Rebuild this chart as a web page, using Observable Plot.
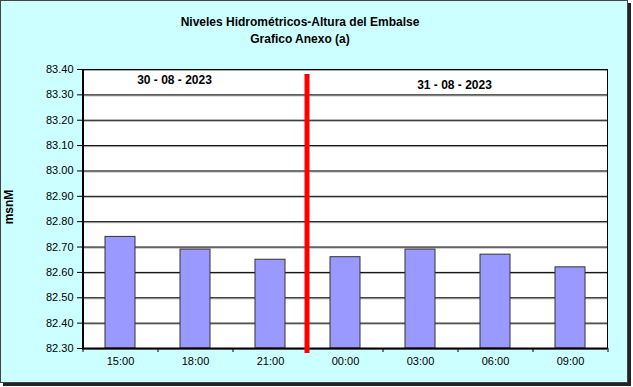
<!DOCTYPE html>
<html>
<head>
<meta charset="utf-8">
<script src="https://cdn.jsdelivr.net/npm/d3@7"></script>
<script src="https://cdn.jsdelivr.net/npm/@observablehq/plot@0.6"></script>
<style>
  html, body { margin: 0; padding: 0; background: #fff; }
  #wrap { position: relative; width: 633px; height: 387px; font-family: "Liberation Sans", Arial, sans-serif; }
  #box { position: absolute; left: 0; top: 0; width: 626px; height: 381px; background: #ccffff;
         border: 1px solid #444; box-shadow: 3px 3px 0 #222; }
  #title { position: absolute; left: 0; top: 14px; width: 600px; text-align: center; font-weight: bold;
           font-size: 12px; line-height: 17px; color: #000; }
  #chart { position: absolute; left: 0; top: 0; }
  #ylab { position: absolute; top: 200px; left: -11px; transform: rotate(-90deg); transform-origin: center;
          font-weight: bold; font-size: 12px; width: 40px; text-align: center; }
</style>
</head>
<body>
<div id="wrap">
  <div id="box"></div>
  <div id="title">Niveles Hidrométricos-Altura del Embalse<br>Grafico Anexo (a)</div>
  <div id="ylab">msnM</div>
  <div id="chart"></div>
</div>
<script>
const hours = ["15:00", "18:00", "21:00", "00:00", "03:00", "06:00", "09:00"];
const levels = [82.74, 82.69, 82.65, 82.66, 82.69, 82.67, 82.62];
const yTicks = [82.30, 82.40, 82.50, 82.60, 82.70, 82.80, 82.90, 83.00, 83.10, 83.20, 83.30, 83.40];
const dateLabels = ["30 - 08 - 2023", "31 - 08 - 2023"];
const dateAt = ["18:00", "03:00"];
const dateLevel = [83.357, 83.34];
const dayBreak = ["00:00"];

const data = hours.map((h, i) => ({hour: h, level: levels[i]}));
const yMin = yTicks[0];
const yMax = yTicks[yTicks.length - 1];

const W = 633, H = 387;
const mL = 82, mR = 26;
const step = (W - mL - mR) / hours.length;

const plot = Plot.plot({
  width: W, height: H,
  marginTop: 69, marginBottom: 39, marginLeft: mL, marginRight: mR,
  style: {background: "transparent", fontFamily: "'Liberation Sans', Arial, sans-serif", fontSize: "11px", color: "#000"},
  x: {domain: hours, paddingInner: 0.6, paddingOuter: 0.3, align: 0.5, label: null},
  y: {type: "linear", domain: [yMin, yMax], label: null},
  marks: [
    Plot.frame({fill: "white", stroke: "#000", strokeWidth: 1}),
    Plot.ruleY(yTicks, {stroke: "#aaa", strokeWidth: 1, dy: 1}),
    Plot.ruleY(yTicks, {stroke: "#000", strokeWidth: 1}),
    Plot.barY(data, {x: "hour", y1: yMin, y2: "level", fill: "#9999ff", stroke: "#333", strokeWidth: 1}),
    Plot.axisX({tickSize: 0, tickPadding: 9, fontSize: 11}),
    Plot.axisY({ticks: yTicks, tickFormat: d => d.toFixed(2), tickSize: 5, tickPadding: 4, fontSize: 11}),
    Plot.ruleX(hours, {x: d => d, y1: yMin, y2: yMin, insetBottom: -4, dx: -step / 2, stroke: "#000"}),
    Plot.ruleX([hours[hours.length - 1]], {x: d => d, y1: yMin, y2: yMin, insetBottom: -4, dx: step / 2, stroke: "#000"}),
    Plot.ruleY([yMin], {stroke: "#000", strokeWidth: 2}),
    Plot.ruleX([hours[0]], {x: d => d, dx: -step / 2, y1: yMin, y2: yMax, stroke: "#000", strokeWidth: 2}),
    Plot.ruleX(dayBreak, {x: d => d, dx: -step / 2 - 1, y1: yMax, y2: yMin, insetTop: 5, insetBottom: -5, stroke: "red", strokeWidth: 5}),
    Plot.text([dateLabels[0]], {x: () => dateAt[0], y: () => dateLevel[0], text: d => d, dx: -21, fontWeight: "bold", fontSize: 12}),
    Plot.text([dateLabels[1]], {x: () => dateAt[1], y: () => dateLevel[1], text: d => d, dx: 34, fontWeight: "bold", fontSize: 12}),
  ]
});
document.getElementById("chart").appendChild(plot);
</script>
</body>
</html>
